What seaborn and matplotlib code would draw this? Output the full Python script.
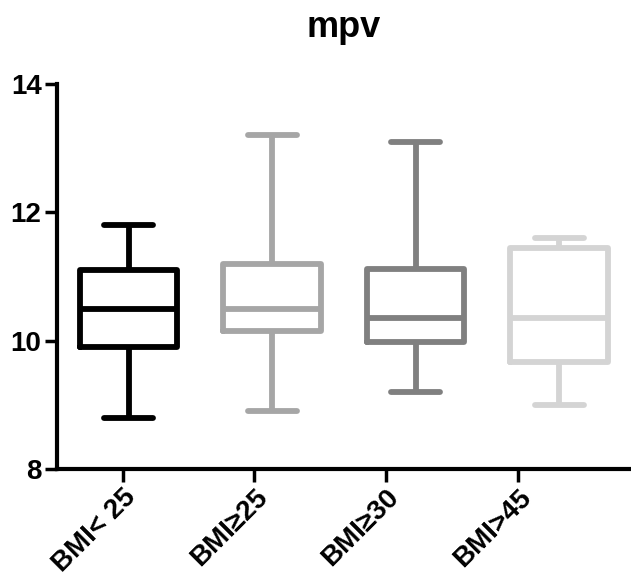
import seaborn as sns
import pandas as pd
import matplotlib.pyplot as plt

groups = ["BMI< 25", "BMI≥25", "BMI≥30", "BMI>45"]
# min, q1, median, q3, max (whiskers go min to max)
bmi_lt25 = [8.8, 9.9, 10.5, 11.1, 11.8]
bmi_ge25 = [8.9, 10.15, 10.5, 11.2, 13.2]
bmi_ge30 = [9.2, 9.98, 10.35, 11.12, 13.1]
bmi_gt45 = [9.0, 9.67, 10.35, 11.45, 11.6]
colors = ["#000000", "#a6a6a6", "#808080", "#d4d4d4"]

rows = []
for g, vals in zip(groups, [bmi_lt25, bmi_ge25, bmi_ge30, bmi_gt45]):
    for v in vals:
        rows.append({"group": g, "mpv": v})
df = pd.DataFrame(rows)

sns.set_style("ticks")
plt.rcParams['font.family'] = ['Liberation Sans', 'DejaVu Sans']
plt.rcParams['font.weight'] = 'bold'

fig = plt.figure(figsize=(6.31, 5.76), dpi=100)
ax = fig.add_axes([0.09, 0.186, 0.91, 0.668])
sns.boxplot(data=df, x="group", y="mpv", hue="group", palette=colors,
            fill=False, whis=(0, 100), width=0.68, linewidth=4.2,
            legend=False, ax=ax)

ax.set_xlim(-0.5, 3.5)
ax.set_ylim(8, 14)
ax.set_yticks([8, 10, 12, 14])
# Prism puts the category ticks slightly off the box centres
ax.set_xticks([-0.04, 0.875, 1.79, 2.715])
ax.set_xticklabels(groups, rotation=45, ha="right", rotation_mode="anchor")
ax.set_xlabel("")
ax.set_ylabel("")
ax.set_title("mpv", fontsize=26, fontweight="bold", pad=34, color="black")

sns.despine(ax=ax)
for s in ["left", "bottom"]:
    ax.spines[s].set_linewidth(3)
    ax.spines[s].set_color("black")
ax.tick_params(axis="both", width=2.5, length=9, pad=2, colors="black")
ax.tick_params(axis="y", labelsize=20)
ax.tick_params(axis="x", labelsize=20)

plt.savefig("out.png", dpi=100)
